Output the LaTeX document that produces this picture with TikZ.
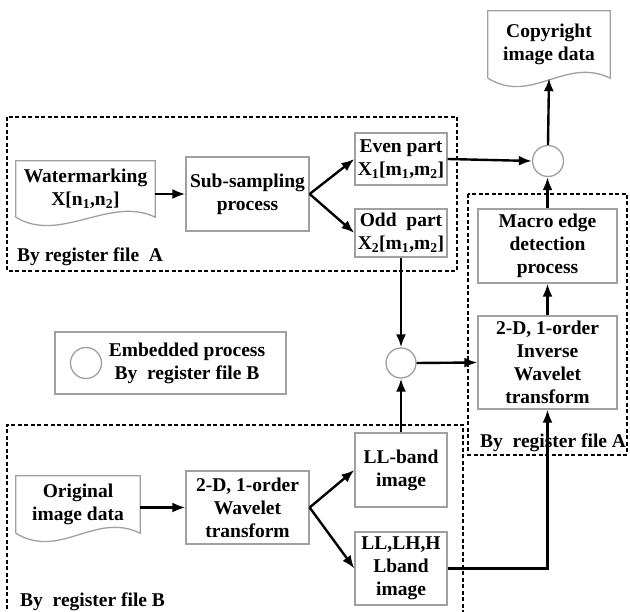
\documentclass[tikz,border=0pt]{standalone}
\usepackage{fontspec}
\setmainfont{Liberation Serif}
\usetikzlibrary{arrows.meta,calc}
\definecolor{BoxGray}{HTML}{A0A0A0}
\newcommand{\lblfont}{\fontsize{19.5}{23}\selectfont\bfseries}

\begin{document}
\begin{tikzpicture}[x=1pt, y=-1pt,
          proc/.style={rectangle, draw=BoxGray, line width=1.3pt, font=\lblfont, align=center, inner sep=0pt},
          doc/.style={rectangle, font=\lblfont, align=center, inner sep=0pt,
            append after command={\pgfextra{\draw[BoxGray, line width=1.3pt]
              (\tikzlastnode.south west) -- (\tikzlastnode.north west) -- (\tikzlastnode.north east)
              -- (\tikzlastnode.south east) .. controls +(-45,-22) and +(44,27) .. (\tikzlastnode.south west);}}},
          junc/.style={circle, draw=BoxGray, line width=1.3pt, minimum size=31pt, inner sep=0pt},
          frame/.style={draw, line width=2pt, dash pattern=on 4pt off 2.5pt},
          tag/.style={font=\lblfont, anchor=west, inner sep=0pt},
          arr/.style={line width=2.4pt, -{Latex[length=13pt,width=10pt]}}
        ]
          \useasboundingbox (0,0) rectangle (630,612);
          % register file frames
          \draw[frame] (7,117) rectangle (457,271);
          \draw[frame] (468,194) rectangle (627,455);
          \draw[frame] (7,622) |- (463,425) -- (463,622);
          \node[tag] (tagA) at (17,257) {By register file~ A};
          \node[tag] (tagA2) at (480,443) {By~ register file A};
          \node[tag] (tagB) at (20,602) {By~ register file B};
          % watermark path
          \node[doc, minimum width=139pt, minimum height=56pt] (wm) at (85.5,189) {Watermarking\\X[n\textsubscript{1},n\textsubscript{2}]};
          \node[proc, minimum width=123pt, minimum height=74pt] (sub) at (247.5,194) {Sub-sampling\\process};
          \node[proc, minimum width=92pt, minimum height=52pt] (even) at (401,159) {Even part\\X\textsubscript{1}[m\textsubscript{1},m\textsubscript{2}]};
          \node[proc, minimum width=92pt, minimum height=48pt] (odd) at (401,233) {Odd~ part\\X\textsubscript{2}[m\textsubscript{1},m\textsubscript{2}]};
          \node[junc] (jtop) at (548,161) {};
          \node[doc, minimum width=122pt, minimum height=67pt] (copy) at (549,44.5) {Copyright\\image data};
          \node[proc, minimum width=139pt, minimum height=74pt] (macro) at (547.5,246) {Macro edge\\detection\\process};
          \node[proc, minimum width=139pt, minimum height=93pt] (inv) at (547.5,362.5) {2-D, 1-order\\Inverse\\Wavelet\\transform};
          \node[junc, minimum size=30pt] (jlow) at (401,363) {};
          % legend
          \node[proc, minimum width=231pt, minimum height=62pt] (legend) at (170.5,363) {};
          \node[junc] (lgc) at (86,363) {};
          \node[font=\lblfont, align=center] (lgt) at (187,363) {Embedded process\\By~ register file B};
          % original image path
          \node[doc, minimum width=124pt, minimum height=57pt] (orig) at (78,504.5) {Original\\image data};
          \node[proc, minimum width=123pt, minimum height=73pt] (dwt) at (247.5,507.5) {2-D, 1-order\\Wavelet\\transform};
          \node[proc, minimum width=92pt, minimum height=74pt] (ll) at (401,470) {LL-band\\image};
          \node[proc, minimum width=92pt, minimum height=73pt] (bands) at (401,568.5) {LL,LH,H\\Lband\\image};
          % connectors
          \draw[arr] (wm.east |- sub.west) -- (sub.west);
          \draw[arr] (sub.east) -- (even.west);
          \draw[arr] (sub.east) -- (odd.west);
          \draw[arr] (even.east) -- (jtop.west);
          \draw[arr] (jtop.north) -- (copy.south);
          \draw[arr] (macro.north) -- (macro.north |- jtop.south);
          \draw[arr] (inv.north) -- (macro.south);
          \draw[arr] (odd.south) -- (jlow.north);
          \draw[arr] (ll.north) -- (jlow.south);
          \draw[arr] (jlow.east) -- (inv.west);
          \draw[arr] (orig.east |- dwt.west) -- (dwt.west);
          \draw[arr] (dwt.east) -- (ll.west);
          \draw[arr] (dwt.east) -- (bands.west);
          \draw[arr] (bands.east) -| (inv.south);
        \end{tikzpicture}
\end{document}
